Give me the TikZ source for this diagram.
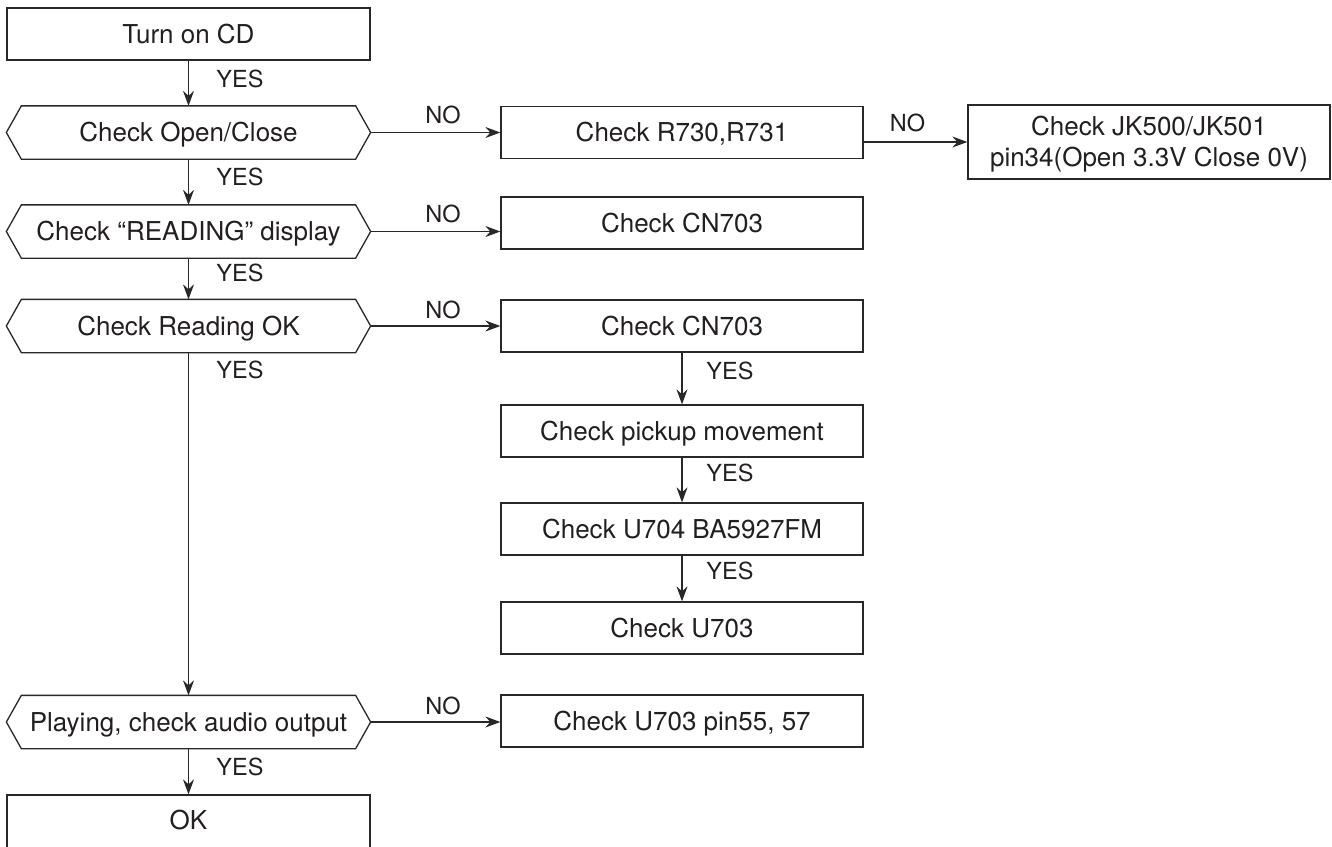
\documentclass[tikz,border=0pt]{standalone}
\usepackage{fontspec}
\setmainfont{TeX Gyre Heros}
\usetikzlibrary{arrows.meta}
\definecolor{ink}{RGB}{35,31,32}
\definecolor{linec}{RGB}{40,40,40}
\newcommand{\hexframe}[1]{\draw[frame] (#1.west) -- ([xshift=15pt]#1.north west) -- ([xshift=-15pt]#1.north east) -- (#1.east) -- ([xshift=-15pt]#1.south east) -- ([xshift=15pt]#1.south west) -- cycle;}
\tikzset{
  frame/.style={draw=linec, line width=1.3pt, line join=miter},
  boxbase/.style={draw=linec, line width=1.3pt, minimum width=362pt, minimum height=52pt, inner sep=0pt,
    font=\fontsize{26}{31}\selectfont, text=ink},
  box/.style={boxbase, text height=18.6pt, text depth=0pt},
  hexnode/.style={box, draw=none, minimum width=363pt},
  lbl/.style={font=\fontsize{23.5}{28}\selectfont, text=ink, inner sep=0pt, text height=16.8pt, text depth=0pt},
  arr/.style={draw=linec, line width=1.3pt, -{Stealth[length=15pt, width=11pt, inset=5pt]}}
}
\begin{document}
\begin{tikzpicture}[x=1pt, y=-1pt]
\useasboundingbox (0,0) rectangle (1332,846);
\clip (0,0) rectangle (1332,846);
% left column
\node[box, minimum width=363pt] (start) at (188.5,34) {Turn on CD};
\node[hexnode] (h1) at (188.5,132.5) {Check Open/Close};
\node[hexnode] (h2) at (188.5,231.5) {Check “READING” display};
\node[hexnode] (h3) at (188.5,326) {Check Reading OK};
\node[hexnode] (h4) at (188.5,722) {Playing, check audio output};
\node[box, minimum width=363pt, minimum height=56pt, text depth=6pt] (ok) at (188.5,823) {OK};
\hexframe{h1}
\hexframe{h2}
\hexframe{h3}
\hexframe{h4}
% right column
\node[box] (r730) at (682,132.5) {Check R730,R731};
\node[box] (cn1) at (682,223) {Check CN703};
\node[box] (cn2) at (682,326) {Check CN703};
\node[box] (pick) at (682,431) {Check pickup movement};
\node[box] (u704) at (682,529) {Check U704 BA5927FM};
\node[box] (u703) at (682,628) {Check U703};
\node[box] (pin) at (682,721) {Check U703 pin55, 57};
\node[boxbase, minimum height=74pt, align=center, text height=49.6pt, text depth=0pt] (jk) at (1149,142)
  {Check JK500/JK501\\pin34(Open 3.3V Close 0V)};
% vertical arrows
\draw[arr] (start.south) -- (h1.north);
\draw[arr] (h1.south) -- (h2.north);
\draw[arr] (h2.south) -- (h3.north);
\draw[arr] (h3.south) -- (h4.north);
\draw[arr] (h4.south) -- (ok.north);
\draw[arr] (cn2.south) -- (pick.north);
\draw[arr] (pick.south) -- (u704.north);
\draw[arr] (u704.south) -- (u703.north);
% horizontal arrows
\draw[arr] (h1.east) -- (r730.west);
\draw[arr] (jk.west -| r730.east) -- (jk.west);
\draw[arr] (h2.east) -- (h2.east -| cn1.west);
\draw[arr] (h3.east) -- (cn2.west);
\draw[arr] (h4.east) -- (h4.east -| pin.west);
% labels
\node[lbl] (y1) at (240,79.5) {YES};
\node[lbl] (y2) at (240,177) {YES};
\node[lbl] (y3) at (240,273.5) {YES};
\node[lbl] (y4) at (240,370) {YES};
\node[lbl] (y5) at (240,767) {YES};
\node[lbl] (y6) at (730,371) {YES};
\node[lbl] (y7) at (730,473.5) {YES};
\node[lbl] (y8) at (730,571.5) {YES};
\node[lbl] (n1) at (443,115) {NO};
\node[lbl] (n2) at (907.5,123.3) {NO};
\node[lbl] (n3) at (443,214) {NO};
\node[lbl] (n4) at (443,310) {NO};
\node[lbl] (n5) at (443,706) {NO};
\end{tikzpicture}
\end{document}
